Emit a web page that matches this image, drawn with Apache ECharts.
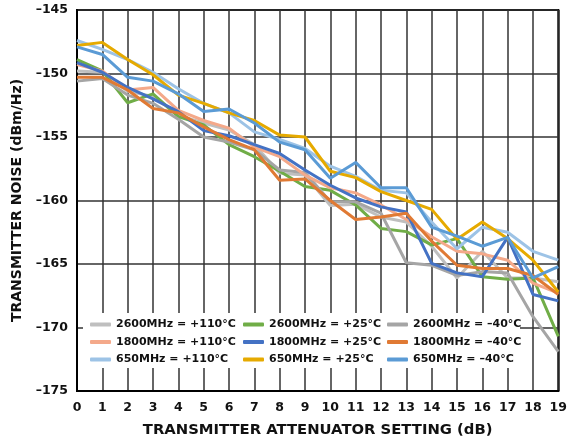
<!DOCTYPE html>
<html>
<head>
<meta charset="utf-8">
<script src="https://cdn.jsdelivr.net/npm/echarts@6/dist/echarts.min.js"></script>
<style>
  html, body { margin: 0; padding: 0; background: #fff; }
  #chart { width: 570px; height: 444px; }
</style>
</head>
<body>
<div id="chart"></div>
<script>
  // attenuator setting (dB)
  var attn = [0, 1, 2, 3, 4, 5, 6, 7, 8, 9, 10, 11, 12, 13, 14, 15, 16, 17, 18, 19];
  var yTicks = [-175, -170, -165, -160, -155, -150, -145];

  // transmitter noise (dBm/Hz)
  var n2600_110 = [-149.8, -149.9, -151.4, -151.8, -153.3, -153.9, -154.45, -155.6, -157.85, -158.0, -160.4, -160.3, -161.3, -161.7, -163.6, -166.1, -164.0, -166.1, -166.1, -166.4];
  var n2600_25 = [-148.9, -149.8, -152.3, -151.6, -153.4, -154.05, -155.6, -156.55, -157.7, -158.9, -159.2, -160.35, -162.2, -162.45, -163.5, -163.0, -166.0, -166.2, -166.1, -170.7];
  var n2600_m40 = [-150.6, -150.4, -151.7, -152.35, -153.6, -155.0, -155.4, -156.0, -157.6, -157.8, -160.1, -160.1, -161.0, -164.9, -165.1, -165.9, -165.6, -165.7, -169.15, -171.9];
  var n1800_110 = [-149.3, -149.8, -151.3, -151.1, -152.9, -153.7, -154.3, -155.8, -156.55, -158.0, -159.0, -159.4, -160.35, -161.5, -162.85, -164.0, -164.2, -164.7, -166.5, -167.3];
  var n1800_25 = [-149.15, -149.9, -151.1, -152.0, -153.0, -154.5, -154.9, -155.6, -156.3, -157.6, -158.8, -159.8, -160.5, -160.9, -164.95, -165.7, -166.0, -162.9, -167.4, -167.9];
  var n1800_m40 = [-150.3, -150.3, -151.3, -152.75, -153.1, -154.2, -155.2, -156.0, -158.4, -158.3, -160.0, -161.5, -161.3, -161.0, -163.2, -165.1, -165.35, -165.35, -165.9, -167.4];
  var n650_110 = [-147.4, -148.1, -148.9, -149.9, -151.2, -152.35, -153.1, -154.6, -155.2, -155.9, -157.3, -158.1, -159.2, -159.4, -161.7, -163.8, -162.1, -162.5, -164.0, -164.7];
  var n650_25 = [-147.8, -147.55, -148.9, -150.1, -151.7, -152.35, -153.1, -153.7, -154.85, -155.0, -157.7, -158.2, -159.3, -160.0, -160.7, -163.05, -161.7, -163.0, -164.7, -167.2];
  var n650_m40 = [-147.9, -148.5, -150.3, -150.6, -151.6, -153.0, -152.8, -153.9, -155.4, -156.0, -158.25, -157.0, -159.0, -159.0, -162.1, -162.8, -163.6, -162.9, -166.1, -165.2];

  var names = [
    '2600MHz = +110°C', '2600MHz = +25°C', '2600MHz = –40°C',
    '1800MHz = +110°C', '1800MHz = +25°C', '1800MHz = –40°C',
    '650MHz = +110°C', '650MHz = +25°C', '650MHz = –40°C'
  ];
  var values = [n2600_110, n2600_25, n2600_m40, n1800_110, n1800_25, n1800_m40, n650_110, n650_25, n650_m40];
  var colors = ['#BFBFBF', '#70AD47', '#A5A5A5', '#F4A98A', '#4472C4', '#E07A34', '#9DC3E6', '#E6AA00', '#5B9BD5'];

  var font = "'DejaVu Sans', sans-serif";

  function pairs(ys) {
    return attn.map(function (x, i) { return [x, ys[i]]; });
  }

  var series = names.map(function (n, i) {
    return {
      name: n,
      type: 'line',
      data: pairs(values[i]),
      symbol: 'none',
      lineStyle: { color: colors[i], width: 3 },
      itemStyle: { color: colors[i] },
      z: 3
    };
  });

  // one legend per column so the three columns line up
  function legendCol(left, items) {
    return {
      orient: 'vertical',
      left: left,
      top: 319,
      itemGap: 6.5,
      itemWidth: 21,
      itemHeight: 4,
      icon: 'roundRect',
      padding: 0,
      data: items,
      textStyle: { fontFamily: font, fontWeight: 'bold', fontSize: 11, color: '#111' },
      selectedMode: false
    };
  }

  var chart = echarts.init(document.getElementById('chart'));
  chart.setOption({
    animation: false,
    color: colors,
    grid: {
      left: 77, right: 9, top: 10, bottom: 53,
      show: true, borderColor: '#000', borderWidth: 2,
      containLabel: false
    },
    graphic: [{
      type: 'rect',
      z: 1,
      shape: { x: 83, y: 313, width: 437, height: 55 },
      style: { fill: '#fff' }
    }],
    legend: [
      legendCol(90, [names[0], names[3], names[6]]),
      legendCol(243, [names[1], names[4], names[7]]),
      legendCol(387, [names[2], names[5], names[8]])
    ],
    xAxis: {
      type: 'value',
      min: 0, max: 19, interval: 1,
      name: 'TRANSMITTER ATTENUATOR SETTING (dB)',
      nameLocation: 'middle',
      nameGap: 32,
      nameTextStyle: { fontFamily: font, fontWeight: 'bold', fontSize: 14.8, color: '#111' },
      axisLine: { lineStyle: { color: '#000', width: 2 } },
      axisTick: { show: false },
      axisLabel: { fontFamily: font, fontWeight: 'bold', fontSize: 12.5, color: '#111', margin: 10 },
      splitLine: { show: true, lineStyle: { color: '#333', width: 1.5 } }
    },
    yAxis: {
      type: 'value',
      min: yTicks[0], max: yTicks[yTicks.length - 1], interval: 5,
      name: 'TRANSMITTER NOISE (dBm/Hz)',
      nameLocation: 'middle',
      nameGap: 52,
      nameTextStyle: { fontFamily: font, fontWeight: 'bold', fontSize: 14, color: '#111' },
      axisLine: { show: true, lineStyle: { color: '#000', width: 2 } },
      axisTick: { show: false },
      axisLabel: {
        fontFamily: font, fontWeight: 'bold', fontSize: 12.5, color: '#111', margin: 9,
        formatter: function (v) { return String(v).replace('-', '–'); }
      },
      splitLine: { show: true, lineStyle: { color: '#333', width: 1.5 } }
    },
    series: series
  });
</script>
</body>
</html>
